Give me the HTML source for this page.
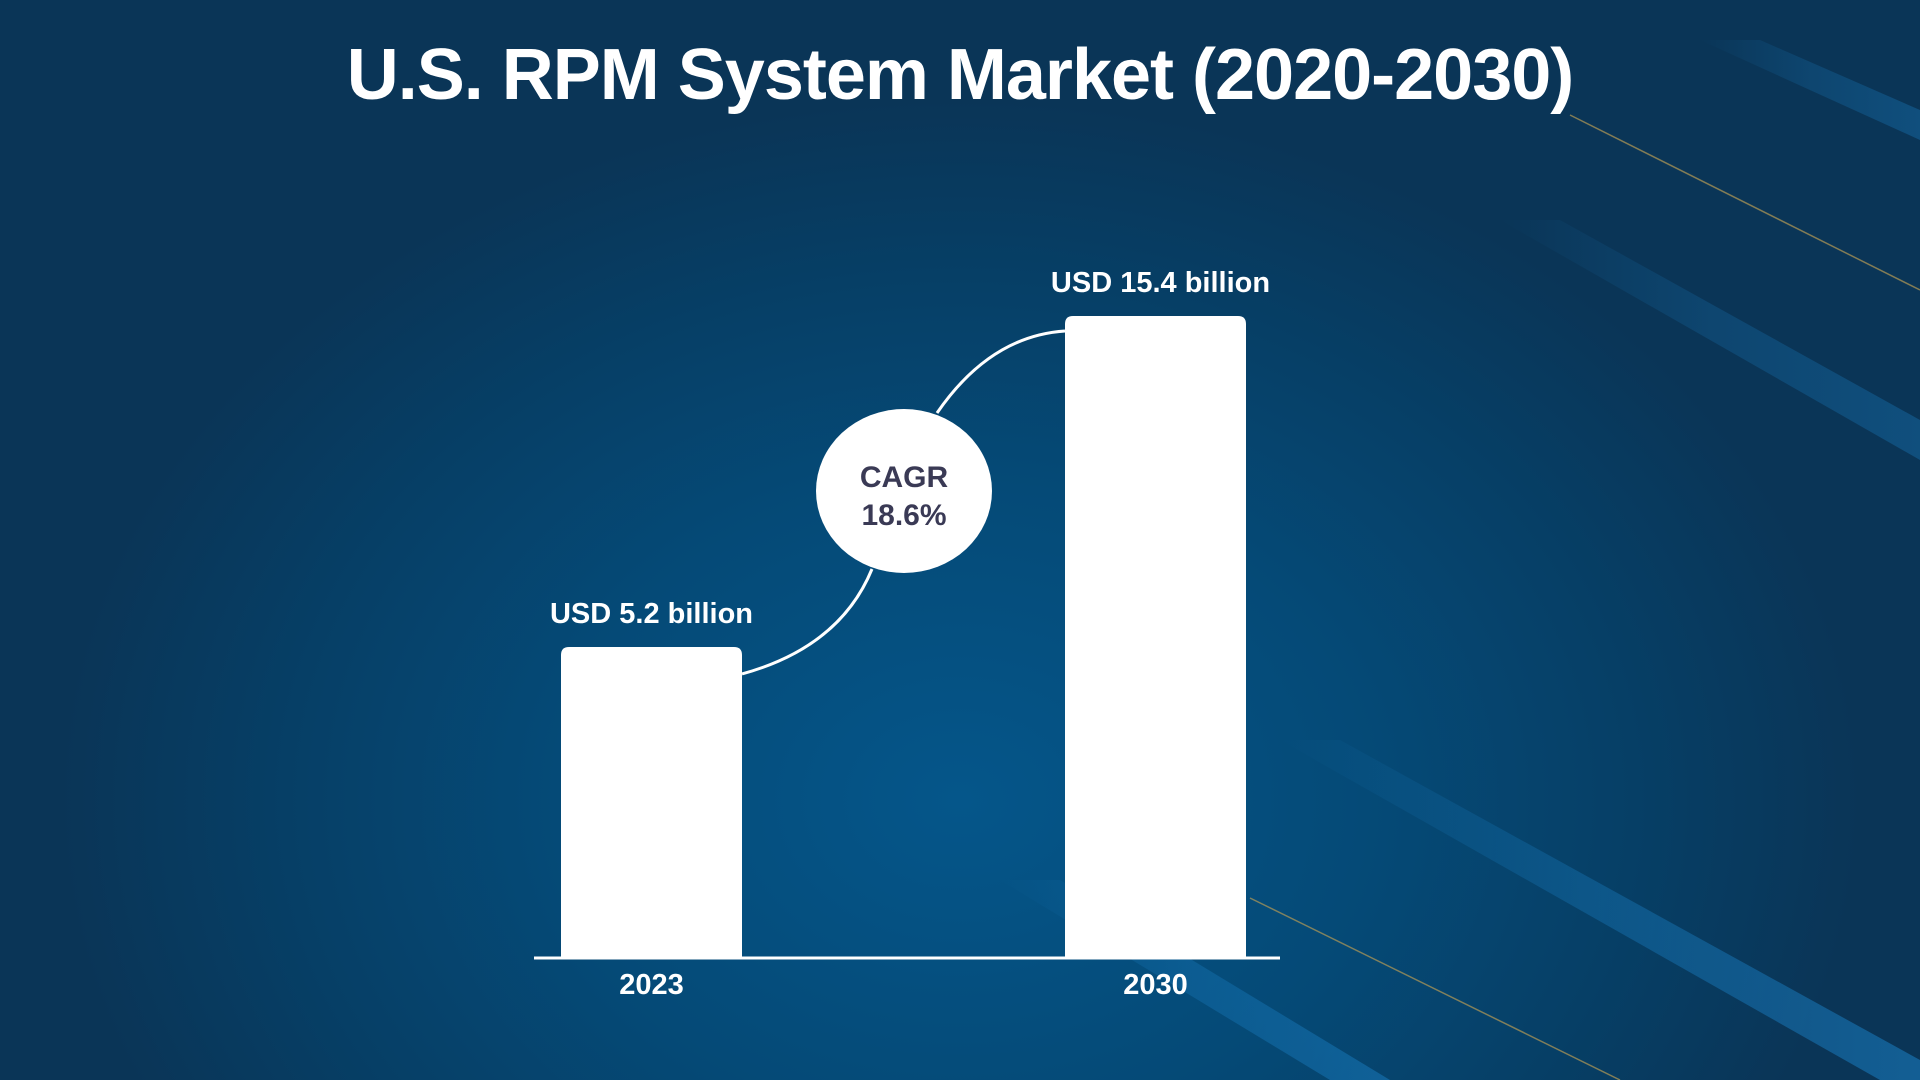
<!DOCTYPE html>
<html><head><meta charset="utf-8"><style>
html,body{margin:0;padding:0;width:1920px;height:1080px;overflow:hidden;}
body{background:radial-gradient(ellipse 900px 700px at 960px 800px,#05568a 0%,#054a77 45%,#063f66 75%,#0a3557 100%);font-family:"Liberation Sans",sans-serif;}
</style></head><body>
<svg width="1920" height="1080" viewBox="0 0 1920 1080" style="position:absolute;left:0;top:0">
<defs>
<linearGradient id="st" x1="0" y1="0" x2="1" y2="0"><stop offset="0" stop-color="#1a7fc4" stop-opacity="0"/><stop offset="0.5" stop-color="#1a7fc4" stop-opacity="0.45"/><stop offset="1" stop-color="#1a7fc4" stop-opacity="0.7"/></linearGradient>
</defs>
<g>
<polygon points="1280,740 1340,740 1920,1060 1920,1080 1880,1080" fill="url(#st)" opacity="0.8"/>
<polygon points="1000,880 1060,880 1390,1080 1330,1080" fill="url(#st)" opacity="0.7"/>
<polygon points="1500,220 1560,220 1920,420 1920,460" fill="url(#st)" opacity="0.5"/>
<polygon points="1700,40 1760,40 1920,110 1920,140" fill="url(#st)" opacity="0.5"/>
<line x1="1570" y1="115" x2="1920" y2="290" stroke="#b59a55" stroke-width="1.5" opacity="0.7"/>
<line x1="1250" y1="898" x2="1620" y2="1080" stroke="#b59a55" stroke-width="1.5" opacity="0.7"/>
</g>
<text x="960" y="99" text-anchor="middle" font-size="72" font-weight="bold" fill="#fff" style="letter-spacing:-1px">U.S. RPM System Market (2020-2030)</text>
<g id="plot"></g>
</svg>
<script>
const categories=["2023","2030"];
const values=[5.2,15.4];
const valueLabels=["USD 5.2 billion","USD 15.4 billion"];
const cagrLabel=["CAGR","18.6%"];
const base=958, k=32.45, d0=-4.385;
function yScale(v){return base-(v-d0)*k;}
const xLeft=[561,1065], barW=181;
function xScale(i){return xLeft[i];}
const NS="http://www.w3.org/2000/svg";
const g=document.getElementById('plot');
function mk(t,a){const e=document.createElementNS(NS,t);for(const key in a)e.setAttribute(key,a[key]);g.appendChild(e);return e;}
const tops=[];
values.forEach((v,i)=>{
 const x=xScale(i),y=yScale(v);tops.push(y);
 const r=mk('path',{d:`M${x},${base} V${y+8} Q${x},${y} ${x+8},${y} H${x+barW-8} Q${x+barW},${y} ${x+barW},${y+8} V${base} Z`,fill:'#fff'});
 
 
 const t=mk('text',{x:x+barW/2+(i?5:0),y:y-24,'text-anchor':'middle','font-size':29,'font-weight':'bold',fill:'#fff'});
 t.textContent=valueLabels[i];
 
 
 const c=mk('text',{x:x+barW/2,y:994,'text-anchor':'middle','font-size':29,'font-weight':'bold',fill:'#fff'});
 c.textContent=categories[i];
 
 
});
const ax=mk('line',{x1:534,y1:base,x2:1280,y2:base,stroke:'#fff','stroke-width':3});


const cx=904,cy=491;
const cv=mk('path',{d:`M${xScale(0)+barW},${tops[0]+27} Q${840},${tops[0]} ${872},${cy+78} M${937},${cy-78} Q${990},${tops[1]+20} ${xScale(1)},${tops[1]+15}`,fill:'none',stroke:'#fff','stroke-width':3});


const el=mk('ellipse',{cx:cx,cy:cy,rx:88,ry:82,fill:'#fff'});


cagrLabel.forEach((s,i)=>{
 const t=mk('text',{x:cx,y:cy-4+i*38,'text-anchor':'middle','font-size':30,'font-weight':'bold',fill:'#3a3a55'});
 t.textContent=s;
 
 
});
</script>
</body></html>
